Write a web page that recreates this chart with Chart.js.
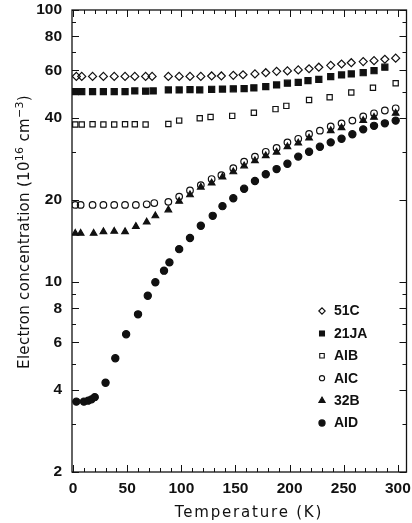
<!DOCTYPE html>
<html>
<head>
<meta charset="utf-8">
<script src="https://cdn.jsdelivr.net/npm/chart.js@4.4.0/dist/chart.umd.min.js"></script>
<style>
  html, body { margin: 0; padding: 0; background: #fff; }
</style>
</head>
<body>
<canvas id="chart" width="412" height="523"></canvas>
<script>
// temperatures (K) and electron concentrations (1e16 cm^-3)
const t51C = [3, 8, 18, 28, 38, 48, 57, 67, 73, 88, 98, 108, 118, 128, 137, 148, 157, 168, 178, 188, 198, 208, 218, 227, 238, 248, 257, 268, 278, 288, 298];
const n51C = [57, 57, 57, 57, 57, 57, 57, 57, 57, 57, 57, 57, 57, 57.2, 57.2, 57.5, 57.8, 58.2, 58.8, 59.5, 59.7, 60.2, 60.8, 61.6, 62.6, 63.3, 64, 64.6, 65.1, 65.9, 66.5];

const t21JA = [2, 8, 18, 28, 38, 48, 57, 67, 74, 88, 98, 108, 117, 128, 138, 148, 158, 167, 178, 188, 198, 208, 217, 227, 238, 248, 257, 268, 278, 288];
const n21JA = [50.1, 50.1, 50.1, 50.1, 50.1, 50.1, 50.4, 50.3, 50.4, 50.8, 50.8, 51.0, 50.8, 51.1, 51.2, 51.3, 51.4, 51.7, 52.3, 53.0, 53.8, 54.2, 55.0, 55.6, 56.9, 57.7, 58.2, 58.8, 59.8, 61.6];

const tAIB = [2, 8, 18, 28, 38, 48, 57, 67, 88, 98, 117, 127, 147, 167, 187, 197, 218, 237, 257, 277, 298];
const nAIB = [37.9, 37.9, 38.0, 37.9, 37.9, 38.0, 38.0, 37.9, 38.1, 39.2, 40.0, 40.4, 40.8, 41.9, 43.2, 44.4, 46.7, 47.8, 49.7, 51.8, 53.8];

const tAIC = [2, 7, 18, 28, 38, 48, 58, 68, 75, 88, 98, 108, 118, 128, 137, 148, 158, 168, 178, 188, 198, 208, 218, 228, 238, 248, 258, 268, 278, 288, 298];
const nAIC = [19.2, 19.2, 19.2, 19.2, 19.2, 19.2, 19.2, 19.3, 19.5, 19.7, 20.6, 21.7, 22.7, 23.9, 24.7, 26.2, 27.7, 28.9, 30.1, 31.1, 32.6, 33.6, 35.0, 36.0, 37.3, 38.3, 39.2, 40.6, 41.7, 42.7, 43.5];

const t32B = [2, 7, 19, 28, 38, 48, 58, 68, 76, 88, 98, 108, 118, 128, 138, 148, 158, 168, 178, 188, 198, 208, 218, 238, 248, 268, 278, 298];
const n32B = [15.1, 15.1, 15.1, 15.3, 15.35, 15.3, 16.0, 16.6, 17.5, 18.4, 19.8, 20.9, 22.3, 23.1, 24.3, 25.4, 26.7, 27.9, 29.1, 30.0, 31.4, 32.4, 33.8, 36.0, 36.9, 39.2, 40.3, 41.7];

const tAID = [3, 10, 14, 17, 20, 30, 39, 49, 60, 69, 76, 84, 89, 98, 108, 118, 129, 138, 148, 158, 168, 178, 188, 198, 208, 218, 228, 238, 248, 258, 268, 278, 288, 298];
const nAID = [3.63, 3.63, 3.66, 3.7, 3.77, 4.26, 5.24, 6.42, 7.6, 8.9, 9.97, 11.0, 11.8, 13.2, 14.5, 16.1, 17.5, 19.0, 20.3, 22.0, 23.5, 24.9, 26.0, 27.2, 28.9, 30.1, 31.4, 32.6, 33.6, 34.9, 36.4, 37.5, 38.3, 39.2];

// axis ticks
const xTicks = [0, 50, 100, 150, 200, 250, 300];
const yTicks = [2, 4, 6, 8, 10, 20, 40, 60, 80, 100];
const yMinor = [3, 5, 7, 9, 30, 50, 70, 90];

const INK = '#111';
const OPEN = 'rgba(255,255,255,0)';

function pts(ts, ns) {
  return ts.map((t, i) => ({x: t, y: ns[i]}));
}

function ds(label, ts, ns, style, fill, r, legendR) {
  return {
    label: label,
    data: pts(ts, ns),
    showLine: false,
    pointStyle: style,
    pointRadius: r,
    pointHoverRadius: r,
    pointBackgroundColor: fill,
    pointBorderColor: INK,
    pointBorderWidth: 1.2,
    legendRadius: legendR
  };
}

const datasets = [
  ds('51C', t51C, n51C, 'rectRot', OPEN, 4, 3.2),
  ds('21JA', t21JA, n21JA, 'rect', INK, 4.3, 3.5),
  ds('AIB', tAIB, nAIB, 'rect', OPEN, 3.7, 3.2),
  ds('AIC', tAIC, nAIC, 'circle', OPEN, 3.3, 2.6),
  ds('32B', t32B, n32B, 'triangle', INK, 3.8, 3.6),
  ds('AID', tAID, nAID, 'circle', INK, 3.6, 3.1)
];

// box round the plot, ticks pointing inwards on all four sides
const frame = {
  id: 'frame',
  afterDatasetsDraw(chart) {
    const {ctx, chartArea: a, scales: {x, y}} = chart;
    ctx.save();
    ctx.strokeStyle = INK;
    ctx.lineWidth = 1.3;
    ctx.strokeRect(a.left, a.top, a.right - a.left, a.bottom - a.top);
    ctx.lineWidth = 1;
    ctx.beginPath();
    for (let v = 0; v <= 300; v += 10) {
      const px = Math.round(x.getPixelForValue(v)) + 0.5;
      const len = v % 50 === 0 ? 7 : 4;
      ctx.moveTo(px, a.bottom); ctx.lineTo(px, a.bottom - len);
      ctx.moveTo(px, a.top); ctx.lineTo(px, a.top + len);
    }
    yTicks.concat(yMinor).forEach(v => {
      const py = Math.round(y.getPixelForValue(v)) + 0.5;
      const len = yTicks.includes(v) ? 7 : 4;
      ctx.moveTo(a.left, py); ctx.lineTo(a.left + len, py);
      ctx.moveTo(a.right, py); ctx.lineTo(a.right - len, py);
    });
    ctx.stroke();
    ctx.restore();
  }
};

// axis titles (the y title carries superscripts)
const titles = {
  id: 'titles',
  afterDraw(chart) {
    const ctx = chart.ctx;
    ctx.save();
    ctx.fillStyle = INK;
    ctx.textBaseline = 'alphabetic';
    ctx.letterSpacing = '1.8px';
    ctx.font = '15px "DejaVu Sans"';
    ctx.textAlign = 'center';
    ctx.fillText('Temperature (K)', 249, 517);

    const parts = [
      ['Electron concentration (10', 15, 0],
      ['16', 11, -6],
      [' cm', 15, 0],
      ['\u22123', 11, -6],
      [')', 15, 0]
    ];
    ctx.letterSpacing = '0.3px';
    ctx.textAlign = 'left';
    let total = 0;
    parts.forEach(p => { ctx.font = p[1] + 'px "DejaVu Sans"'; total += ctx.measureText(p[0]).width; });
    ctx.translate(29, 232);
    ctx.rotate(-Math.PI / 2);
    let cx = -total / 2;
    parts.forEach(p => {
      ctx.font = p[1] + 'px "DejaVu Sans"';
      ctx.fillText(p[0], cx, p[2]);
      cx += ctx.measureText(p[0]).width;
    });
    ctx.restore();
  }
};

// key in the lower right of the plot
const key = {
  id: 'key',
  afterDraw(chart) {
    const ctx = chart.ctx;
    ctx.save();
    chart.data.datasets.forEach((d, i) => {
      const y = 311 + i * 22.4;
      ctx.fillStyle = d.pointBackgroundColor;
      ctx.strokeStyle = INK;
      ctx.lineWidth = 1.1;
      Chart.helpers.drawPoint(ctx, {pointStyle: d.pointStyle, radius: d.legendRadius, borderWidth: 1.1, rotation: 0}, 322, y);
      ctx.fillStyle = INK;
      ctx.font = 'bold 14px "Liberation Sans"';
      ctx.textBaseline = 'middle';
      ctx.textAlign = 'left';
      ctx.fillText(d.label, 334, y + 0.5);
    });
    ctx.restore();
  }
};

const tickFont = {family: '"Liberation Sans", Arial, sans-serif', weight: 'bold', size: 15.5};

new Chart(document.getElementById('chart'), {
  type: 'scatter',
  data: {datasets: datasets},
  options: {
    responsive: false,
    animation: false,
    devicePixelRatio: 1,
    layout: {padding: {top: 10, right: 5, left: 0, bottom: 0}},
    plugins: {legend: {display: false}, tooltip: {enabled: false}},
    scales: {
      x: {
        type: 'linear',
        min: -1,
        max: 308,
        afterBuildTicks: s => { s.ticks = xTicks.map(v => ({value: v})); },
        afterFit: s => { s.height = 51; s.paddingLeft = 0; s.paddingRight = 0; },
        grid: {display: false},
        border: {display: false},
        ticks: {padding: -1, font: tickFont, color: INK, maxRotation: 0, autoSkip: false}
      },
      y: {
        type: 'logarithmic',
        min: 2,
        max: 100,
        afterBuildTicks: s => { s.ticks = yTicks.map(v => ({value: v})); },
        afterFit: s => { s.width = 72; s.paddingTop = 0; s.paddingBottom = 0; },
        grid: {display: false},
        border: {display: false},
        ticks: {padding: 2, font: tickFont, color: INK, autoSkip: false, callback: v => String(v)}
      }
    }
  },
  plugins: [frame, titles, key]
});
</script>
</body>
</html>
